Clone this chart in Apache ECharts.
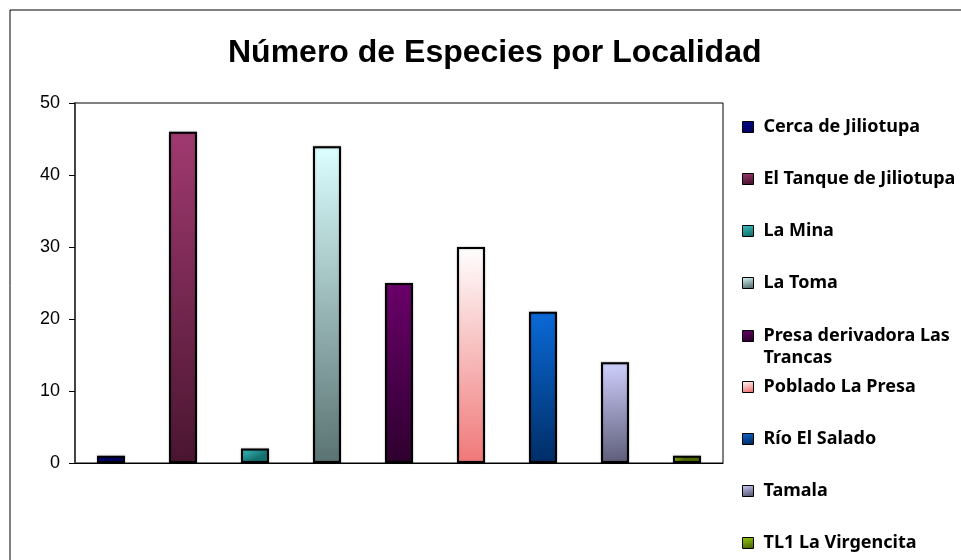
<!DOCTYPE html>
<html lang="es">
<head>
<meta charset="UTF-8">
<script src="https://cdn.jsdelivr.net/npm/echarts@6/dist/echarts.min.js"></script>
<title>Número de Especies por Localidad</title>
<style>
  *{margin:0;padding:0}
  html,body{width:100%;height:100%;background:#fff}
  #main{width:961px;height:560px}
</style>
</head>
<body>
<div id="main"></div>
<script type="text/javascript">
// datos
var localidades = ['Cerca de Jiliotupa', 'El Tanque de Jiliotupa', 'La Mina', 'La Toma',
  'Presa derivadora Las Trancas', 'Poblado La Presa', 'Río El Salado', 'Tamala', 'TL1 La Virgencita'];
var especies = [1, 46, 2, 44, 25, 30, 21, 14, 1];
var yTicks = [0, 10, 20, 30, 40, 50];

// colores (arriba, abajo) de cada barra
var coloresArriba = ['#000a8c', '#a03a70', '#3cc4c4', '#dcffff', '#6a006a', '#ffffff', '#0a6ad8', '#d0d0ff', '#9acc10'];
var coloresAbajo  = ['#000060', '#4a1530', '#157070', '#5a7272', '#2e002e', '#f07878', '#002d66', '#5e5e7a', '#4e6a00'];

var myChart = echarts.init(document.getElementById('main'));

var series = [];
for (var i = 0; i < localidades.length; i++) {
  var d = [];
  for (var j = 0; j < localidades.length; j++) d.push(j === i ? especies[i] : null);
  series.push({
    name: localidades[i],
    type: 'bar',
    stack: 'total',
    barWidth: 28,
    data: d,
    itemStyle: {
      color: new echarts.graphic.LinearGradient(0, 0, 0.25, 1, [
        {offset: 0, color: coloresArriba[i]},
        {offset: 1, color: coloresAbajo[i]}
      ]),
      borderColor: '#000',
      borderWidth: 2,
      shadowColor: 'rgba(0,0,0,0.35)',
      shadowBlur: 2
    }
  });
}

var txt = {color: '#000', fontFamily: 'Noto Sans', fontSize: 18, fontWeight: 'bold', lineHeight: 22, padding: [0, 0, 0, 5]};
var legendBase = {
  orient: 'vertical',
  left: 742,
  padding: 0,
  itemWidth: 11,
  itemHeight: 11,
  itemGap: 30,
  icon: 'rect',
  itemStyle: {borderColor: '#000', borderWidth: 1, shadowBlur: 0},
  textStyle: txt
};

var option = {
  animation: false,
  title: {
    text: 'Número de Especies por Localidad',
    left: 228,
    top: 37,
    padding: 0,
    textStyle: {fontFamily: 'Liberation Sans', fontSize: 32, fontWeight: 'bold', color: '#000'}
  },
  graphic: [{
    type: 'rect',
    shape: {x: 10, y: 10, width: 1000, height: 600},
    style: {fill: 'none', stroke: '#000', lineWidth: 1}
  }],
  legend: [
    Object.assign({}, legendBase, {top: 116, data: localidades.slice(0, 4)}),
    Object.assign({}, legendBase, {
      top: 303,
      data: localidades.slice(4, 5),
      // linea vacia arriba para que el cuadro quede en la primera linea
      formatter: function (n) { return ' \nPresa derivadora Las\nTrancas'; }
    }),
    Object.assign({}, legendBase, {top: 376, data: localidades.slice(5)})
  ],
  grid: {
    left: 75, top: 103, right: 238, bottom: 97,
    show: true, borderColor: '#000', borderWidth: 1, backgroundColor: '#fff'
  },
  xAxis: {
    type: 'category',
    data: localidades,
    axisLabel: {show: false},
    axisTick: {show: false},
    axisLine: {lineStyle: {color: '#000', width: 1}}
  },
  yAxis: {
    type: 'value',
    min: yTicks[0],
    max: yTicks[yTicks.length - 1],
    interval: 10,
    splitLine: {show: false},
    axisLine: {show: true, lineStyle: {color: '#444', width: 2}},
    axisTick: {show: true, length: 6, lineStyle: {color: '#000'}},
    axisLabel: {color: '#000', fontFamily: 'Liberation Sans', fontSize: 18, margin: 15}
  },
  series: series
};

myChart.setOption(option);
</script>
</body>
</html>
